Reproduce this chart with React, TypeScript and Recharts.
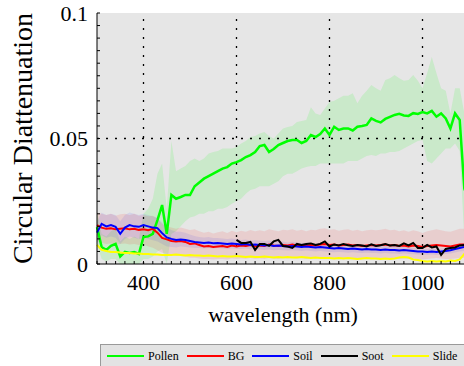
import React from 'react';
import {
  ComposedChart,
  Line,
  Area,
  XAxis,
  YAxis,
  CartesianGrid,
  ReferenceLine,
} from 'recharts';

// wavelength grid (nm)
const wavelength = [
  300, 310, 320, 330, 340, 350, 360, 370, 380, 390,
  400, 410, 420, 430, 440, 450, 460, 470, 480, 490,
  500, 510, 520, 530, 540, 550, 560, 570, 580, 590,
  600, 610, 620, 630, 640, 650, 660, 670, 680, 690,
  700, 710, 720, 730, 740, 750, 760, 770, 780, 790,
  800, 810, 820, 830, 840, 850, 860, 870, 880, 890,
  900, 910, 920, 930, 940, 950, 960, 970, 980, 990,
  1000, 1010, 1020, 1030, 1040, 1050, 1060, 1070, 1080, 1090,
  1100,
];

const pollen = [
  0.0147, 0.0068, 0.0056, 0.0072, 0.008, 0.003, 0.0048, 0.0044, 0.0048, 0.004,
  0.0108, 0.011, 0.012, 0.0175, 0.0235, 0.012, 0.0275, 0.026, 0.0267, 0.0275,
  0.0275, 0.031, 0.0325, 0.034, 0.035, 0.036, 0.037, 0.038, 0.0386, 0.04,
  0.0406, 0.0414, 0.0426, 0.0434, 0.0446, 0.047, 0.0474, 0.0446, 0.0458, 0.0474,
  0.0482, 0.049, 0.0494, 0.0494, 0.0482, 0.049, 0.0514, 0.0506, 0.0518, 0.054,
  0.0514, 0.0547, 0.0534, 0.054, 0.054, 0.0532, 0.0547, 0.055, 0.0554, 0.058,
  0.057, 0.0564, 0.0578, 0.0586, 0.0594, 0.0598, 0.0592, 0.059, 0.0601, 0.0598,
  0.0605, 0.06, 0.061, 0.0587, 0.06, 0.058, 0.054, 0.06, 0.0574, 0.03,
  0.025,
];
const pollenLo = [
  0.008, 0.002, 0.001, 0.002, 0.002, 0, 0, 0, 0, 0,
  0.002, 0.002, 0.003, 0.005, 0.006, 0, 0.012, 0.013, 0.015, 0.017,
  0.0185, 0.019, 0.02, 0.02, 0.021, 0.021, 0.022, 0.022, 0.0227, 0.024,
  0.025, 0.026, 0.028, 0.0295, 0.03, 0.031, 0.031, 0.031, 0.032, 0.033,
  0.035, 0.036, 0.036, 0.037, 0.038, 0.0386, 0.039, 0.039, 0.04, 0.04,
  0.04, 0.04, 0.04, 0.04, 0.041, 0.041, 0.041, 0.042, 0.043, 0.0434,
  0.043, 0.044, 0.044, 0.0446, 0.0446, 0.045, 0.046, 0.047, 0.048, 0.049,
  0.0494, 0.041, 0.04, 0.042, 0.044, 0.046, 0.046, 0.048, 0.045, 0.01,
  0.005,
];
const pollenHi = [
  0.021, 0.012, 0.011, 0.013, 0.014, 0.009, 0.011, 0.01, 0.011, 0.01,
  0.02, 0.022, 0.026, 0.036, 0.04, 0.022, 0.049, 0.037, 0.038, 0.039,
  0.041, 0.042, 0.041, 0.042, 0.044, 0.0446, 0.045, 0.046, 0.046, 0.046,
  0.0466, 0.048, 0.049, 0.0506, 0.051, 0.052, 0.0526, 0.051, 0.05, 0.052,
  0.054, 0.0546, 0.055, 0.0566, 0.057, 0.0574, 0.0625, 0.06, 0.0594, 0.062,
  0.0645, 0.065, 0.066, 0.067, 0.067, 0.068, 0.064, 0.067, 0.069, 0.0713,
  0.07, 0.069, 0.0733, 0.074, 0.0753, 0.074, 0.073, 0.0733, 0.0753, 0.073,
  0.07, 0.076, 0.0825, 0.076, 0.07, 0.069, 0.06, 0.07, 0.07, 0.06,
  0.055,
];

const bg = [
  0.0155, 0.0145, 0.014, 0.0142, 0.0138, 0.014, 0.0142, 0.0138, 0.014, 0.0136,
  0.0138, 0.0135, 0.014, 0.0125, 0.0104, 0.0098, 0.0092, 0.009, 0.0092, 0.0088,
  0.008, 0.0082, 0.0076, 0.007, 0.0072, 0.0068, 0.007, 0.0072, 0.0068, 0.0074,
  0.007, 0.0074, 0.0072, 0.0076, 0.007, 0.0074, 0.0072, 0.0078, 0.0074, 0.0072,
  0.0076, 0.0074, 0.0078, 0.0074, 0.0076, 0.0072, 0.0076, 0.0074, 0.0078, 0.008,
  0.0076, 0.0078, 0.0074, 0.0076, 0.0078, 0.0074, 0.0076, 0.0072, 0.0074, 0.0076,
  0.0074, 0.0076, 0.0078, 0.0074, 0.0076, 0.0072, 0.0074, 0.007, 0.0074, 0.0072,
  0.0068, 0.0072, 0.0074, 0.0076, 0.0074, 0.0072, 0.007, 0.0074, 0.0078, 0.0078,
  0.008,
];
const bgLo = [
  0.009, 0.0085, 0.008, 0.0082, 0.0078, 0.008, 0.0082, 0.0078, 0.008, 0.0076,
  0.0078, 0.007, 0.0065, 0.0055, 0.0045, 0.004, 0.0035, 0.0032, 0.0032, 0.003,
  0.0025, 0.0025, 0.0022, 0.002, 0.002, 0.0018, 0.002, 0.002, 0.0018, 0.0022,
  0.002, 0.0022, 0.002, 0.0024, 0.002, 0.0022, 0.002, 0.0024, 0.0022, 0.002,
  0.0024, 0.0022, 0.0024, 0.0022, 0.0024, 0.002, 0.0024, 0.0022, 0.0024, 0.0026,
  0.0024, 0.0024, 0.0022, 0.0024, 0.0024, 0.0022, 0.0024, 0.002, 0.0022, 0.0024,
  0.0022, 0.0024, 0.0024, 0.0022, 0.0024, 0.002, 0.0022, 0.002, 0.0022, 0.002,
  0.0018, 0.002, 0.0022, 0.0024, 0.0022, 0.002, 0.002, 0.0022, 0.0024, 0.0024,
  0.0026,
];
const bgHi = [
  0.0205, 0.02, 0.0195, 0.02, 0.0192, 0.0198, 0.02, 0.0195, 0.02, 0.0192,
  0.0195, 0.019, 0.0192, 0.018, 0.016, 0.015, 0.0145, 0.014, 0.0145, 0.014,
  0.0135, 0.0138, 0.013, 0.0125, 0.0128, 0.0122, 0.0126, 0.013, 0.0124, 0.0132,
  0.0126, 0.0132, 0.0128, 0.0135, 0.013, 0.0134, 0.013, 0.0138, 0.0134, 0.013,
  0.0136, 0.0134, 0.0138, 0.0132, 0.0136, 0.013, 0.0136, 0.0134, 0.014, 0.0142,
  0.0136, 0.0138, 0.0132, 0.0136, 0.0138, 0.0132, 0.0136, 0.013, 0.0134, 0.0136,
  0.0134, 0.0136, 0.014, 0.0134, 0.0136, 0.013, 0.0134, 0.0128, 0.0134, 0.013,
  0.0124, 0.013, 0.0134, 0.0138, 0.0134, 0.013, 0.0128, 0.0134, 0.014, 0.014,
  0.0142,
];

const soil = [
  0.0125, 0.016, 0.015, 0.0155, 0.0148, 0.012, 0.0145, 0.0155, 0.015, 0.0148,
  0.0155, 0.015, 0.0145, 0.0143, 0.0123, 0.0106, 0.01, 0.0096, 0.0098, 0.0096,
  0.0092, 0.0088, 0.0086, 0.0084, 0.0086, 0.0083, 0.0084, 0.0082, 0.008, 0.0082,
  0.008, 0.0078, 0.008, 0.0076, 0.0078, 0.0076, 0.0074, 0.0076, 0.0072, 0.0074,
  0.0072, 0.007, 0.0072, 0.007, 0.0068, 0.007, 0.0068, 0.0066, 0.0068, 0.0066,
  0.0064, 0.0062, 0.0064, 0.0062, 0.006, 0.0062, 0.006, 0.0058, 0.006, 0.0058,
  0.0058, 0.0056, 0.0058, 0.0056, 0.0056, 0.0054, 0.0056, 0.0054, 0.0052, 0.005,
  0.005, 0.0048, 0.005, 0.0048, 0.005, 0.0052, 0.0055, 0.006, 0.0064, 0.0068,
  0.007,
];
const soilLo = [
  0.0085, 0.0115, 0.0105, 0.011, 0.0105, 0.008, 0.01, 0.011, 0.0105, 0.01,
  0.0105, 0.01, 0.0095, 0.009, 0.008, 0.007, 0.0068, 0.0066, 0.007, 0.0068,
  0.0066, 0.0064, 0.0064, 0.0062, 0.0064, 0.0062, 0.0064, 0.0062, 0.006, 0.0062,
  0.006, 0.006, 0.0062, 0.0058, 0.006, 0.0058, 0.0056, 0.0058, 0.0055, 0.0056,
  0.0055, 0.0054, 0.0055, 0.0054, 0.0052, 0.0054, 0.0052, 0.005, 0.0052, 0.005,
  0.0048, 0.0047, 0.0048, 0.0047, 0.0045, 0.0047, 0.0045, 0.0044, 0.0045, 0.0044,
  0.0044, 0.0042, 0.0044, 0.0042, 0.0042, 0.004, 0.0042, 0.004, 0.0039, 0.0038,
  0.0038, 0.0036, 0.0038, 0.0036, 0.0038, 0.004, 0.0042, 0.0046, 0.005, 0.0052,
  0.0054,
];
const soilHi = [
  0.017, 0.0205, 0.0195, 0.02, 0.0195, 0.017, 0.0195, 0.0205, 0.02, 0.0195,
  0.02, 0.0195, 0.019, 0.0185, 0.0165, 0.0145, 0.0135, 0.0128, 0.0128, 0.0125,
  0.0118, 0.0112, 0.0108, 0.0106, 0.0108, 0.0104, 0.0104, 0.0102, 0.01, 0.0102,
  0.01, 0.0096, 0.0098, 0.0094, 0.0096, 0.0094, 0.0092, 0.0094, 0.009, 0.0092,
  0.009, 0.0086, 0.0089, 0.0086, 0.0084, 0.0086, 0.0084, 0.0082, 0.0084, 0.0082,
  0.008, 0.0077, 0.008, 0.0077, 0.0075, 0.0077, 0.0075, 0.0072, 0.0075, 0.0072,
  0.0072, 0.007, 0.0072, 0.007, 0.007, 0.0068, 0.007, 0.0068, 0.0065, 0.0062,
  0.0062, 0.006, 0.0062, 0.006, 0.0062, 0.0064, 0.0068, 0.0074, 0.0078, 0.0084,
  0.0086,
];

// soot was only measured from 600 nm on
const soot = [
  null, null, null, null, null, null, null, null, null, null,
  null, null, null, null, null, null, null, null, null, null,
  null, null, null, null, null, null, null, null, null, null,
  0.0096, 0.0084, 0.0084, 0.0088, 0.0056, 0.008, 0.008, 0.0072, 0.009, 0.0096,
  0.0072, 0.007, 0.0064, 0.008, 0.0076, 0.008, 0.0082, 0.0076, 0.008, 0.009,
  0.007, 0.0078, 0.0074, 0.008, 0.0075, 0.0072, 0.0076, 0.0074, 0.007, 0.0078,
  0.0072, 0.0075, 0.008, 0.0074, 0.0076, 0.0072, 0.0082, 0.0074, 0.0084, 0.0064,
  0.0064, 0.0076, 0.0066, 0.007, 0.0036, 0.006, 0.0064, 0.0066, 0.0074, 0.0076,
  0.0078,
];

const slide = [
  0.0076, 0.0056, 0.0052, 0.0048, 0.0048, 0.0046, 0.0044, 0.0044, 0.0042, 0.0042,
  0.004, 0.004, 0.0038, 0.0038, 0.0036, 0.0036, 0.0036, 0.0038, 0.0036, 0.0034,
  0.0036, 0.0034, 0.0034, 0.0032, 0.0034, 0.0032, 0.003, 0.0032, 0.003, 0.003,
  0.0032, 0.003, 0.0028, 0.003, 0.0028, 0.0028, 0.003, 0.0028, 0.0026, 0.0028,
  0.0026, 0.0028, 0.0026, 0.0026, 0.0028, 0.0026, 0.0024, 0.0026, 0.0024, 0.0024,
  0.0024, 0.0022, 0.0024, 0.0022, 0.0024, 0.0022, 0.002, 0.0022, 0.0024, 0.0022,
  0.0022, 0.002, 0.0022, 0.002, 0.0022, 0.0026, 0.0028, 0.0026, 0.0018, 0.0016,
  0.0012, 0.001, 0.0012, 0.001, 0.0012, 0.001, 0.0014, 0.0012, 0.0018, 0.004,
  0.0045,
];

const xTicks = [
  300, 320, 340, 360, 380, 400, 420, 440, 460, 480, 500, 520, 540, 560, 580,
  600, 620, 640, 660, 680, 700, 720, 740, 760, 780, 800, 820, 840, 860, 880,
  900, 920, 940, 960, 980, 1000, 1020, 1040, 1060, 1080, 1100,
];
const xLabelTicks = [400, 600, 800, 1000];
const yTicks = [
  0, 0.005, 0.01, 0.015, 0.02, 0.025, 0.03, 0.035, 0.04, 0.045, 0.05,
  0.055, 0.06, 0.065, 0.07, 0.075, 0.08, 0.085, 0.09, 0.095, 0.1,
];
const yLabels: Record<string, string> = { '0': '0', '0.05': '0.05', '0.1': '0.1' };

const legendItems = [
  { name: 'Pollen', color: '#00ff00' },
  { name: 'BG', color: '#ff0000' },
  { name: 'Soil', color: '#0000ff' },
  { name: 'Soot', color: '#000000' },
  { name: 'Slide', color: '#ffff00' },
];

const SERIF = 'Liberation Serif';

const chartData = wavelength.map((wl, i) => ({
  wl,
  pollen: pollen[i],
  pollenBand: [pollenLo[i], pollenHi[i]],
  bg: bg[i],
  bgBand: [bgLo[i], bgHi[i]],
  soil: soil[i],
  soilBand: [soilLo[i], soilHi[i]],
  soot: soot[i],
  slide: slide[i],
}));

export default function App() {
  return (
    <div
      style={{
        position: 'absolute',
        left: 0,
        top: 0,
        width: 464,
        height: 366,
        overflow: 'hidden',
        background: '#fff',
        fontFamily: SERIF,
      }}
    >
      <ComposedChart
        width={490}
        height={366}
        data={chartData}
        margin={{ top: 13, right: 21, left: 0, bottom: 44 }}
        style={{ fontFamily: SERIF }}
      >
        <CartesianGrid fill="#e6e6e6" stroke="none" horizontal={false} vertical={false} />
        <XAxis
          xAxisId={0}
          type="number"
          dataKey="wl"
          domain={[300, 1100]}
          ticks={xTicks}
          interval={0}
          height={58}
          stroke="#000"
          tickSize={-3}
          tickMargin={13}
          tick={{ fill: '#000', fontSize: 22, fontFamily: SERIF }}
          tickFormatter={(v: number) => (xLabelTicks.includes(v) ? String(v) : '')}
          label={{
            value: 'wavelength (nm)',
            position: 'insideBottom',
            offset: 0,
            fill: '#000',
            fontSize: 22,
            fontFamily: SERIF,
          }}
        />
        <XAxis
          xAxisId="top"
          orientation="top"
          type="number"
          dataKey="wl"
          domain={[300, 1100]}
          ticks={xTicks}
          interval={0}
          height={0}
          stroke="#000"
          tickSize={-3}
          tick={false}
        />
        <YAxis
          type="number"
          domain={[0, 0.1]}
          ticks={yTicks}
          interval={0}
          width={97}
          stroke="#000"
          tickSize={-3}
          tickMargin={12}
          tick={{ fill: '#000', fontSize: 22, fontFamily: SERIF }}
          tickFormatter={(v: number) => yLabels[String(v)] ?? ''}
          label={{
            content: ({ viewBox }: any) => {
              const cx = viewBox.x + 22;
              const cy = viewBox.y + viewBox.height / 2;
              return (
                <text
                  x={cx}
                  y={cy}
                  transform={`rotate(-90, ${cx}, ${cy})`}
                  textAnchor="middle"
                  dominantBaseline="central"
                  fontSize={28}
                  fontFamily={SERIF}
                  fill="#000"
                >
                  Circular Diattenuation
                </text>
              );
            },
          }}
        />

        {/* spread bands */}
        <Area
          type="linear"
          dataKey="pollenBand"
          stroke="none"
          fill="#00ff00"
          fillOpacity={0.12}
          isAnimationActive={false}
        />
        <Area
          type="linear"
          dataKey="bgBand"
          stroke="none"
          fill="#ff0000"
          fillOpacity={0.1}
          isAnimationActive={false}
        />
        <Area
          type="linear"
          dataKey="soilBand"
          stroke="none"
          fill="#0000ff"
          fillOpacity={0.08}
          isAnimationActive={false}
        />

        {/* dotted grid */}
        {xLabelTicks.map((x) => (
          <ReferenceLine key={x} x={x} stroke="#000" strokeDasharray="2 7" strokeWidth={1.3} />
        ))}
        <ReferenceLine y={0.05} stroke="#000" strokeDasharray="2 7" strokeWidth={1.3} />

        <Line type="linear" dataKey="pollen" stroke="#00ff00" strokeWidth={2.5} dot={false} isAnimationActive={false} />
        <Line type="linear" dataKey="bg" stroke="#ff0000" strokeWidth={2} dot={false} isAnimationActive={false} />
        <Line type="linear" dataKey="soil" stroke="#0000ff" strokeWidth={2} dot={false} isAnimationActive={false} />
        <Line type="linear" dataKey="soot" stroke="#000000" strokeWidth={2} dot={false} isAnimationActive={false} />
        <Line type="linear" dataKey="slide" stroke="#ffff00" strokeWidth={2} dot={false} isAnimationActive={false} />
      </ComposedChart>

      <div
        style={{
          position: 'absolute',
          left: 100,
          top: 344,
          width: 420,
          height: 30,
          background: '#e3e3e3',
          border: '1px solid #9a9a9a',
          display: 'flex',
          alignItems: 'flex-start',
          paddingLeft: 6,
          boxSizing: 'border-box',
        }}
      >
        {legendItems.map((item) => (
          <div
            key={item.name}
            style={{ display: 'flex', alignItems: 'center', height: 22, marginRight: 8 }}
          >
            <div style={{ width: 37, height: 1.5, background: item.color, marginRight: 4 }} />
            <span style={{ fontSize: 12, fontFamily: SERIF, color: '#000', lineHeight: '12px' }}>
              {item.name}
            </span>
          </div>
        ))}
      </div>
    </div>
  );
}
